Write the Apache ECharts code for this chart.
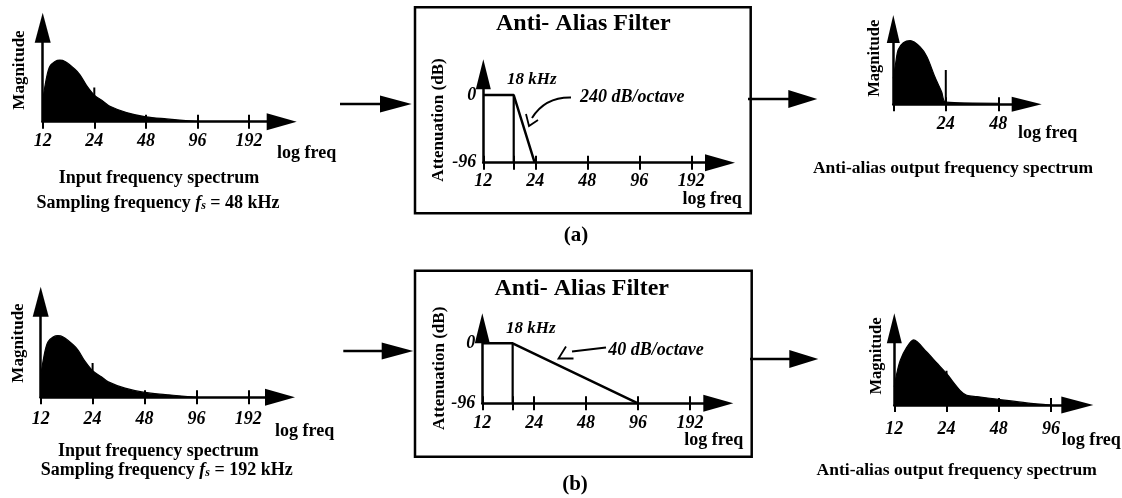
<!DOCTYPE html>
<html><head><meta charset="utf-8">
<script src="https://cdn.jsdelivr.net/npm/echarts@6/dist/echarts.min.js"></script>
<style>html,body{margin:0;padding:0;background:#fff}#c{width:1122px;height:498px}</style>
</head><body><div id="c"></div>
<script>
// ---------------- data (frequencies in kHz) ----------------
const inputFreq = [12, 12.66, 13.21, 14.15, 15.1, 16.2, 18.5, 19.8, 21.6, 24, 27.1, 29.6, 37, 48, 63.3, 96];
const inputMag  = [0.31, 0.64, 0.79, 0.86, 0.88, 0.86, 0.75, 0.67, 0.52, 0.38, 0.29, 0.22, 0.13, 0.07, 0.04, 0];

const outAFreq = [12, 12.4, 12.8, 13.7, 15.0, 17.1, 18.7, 20.8, 22.7, 24, 48];
const outAMag  = [0.37, 0.6, 0.78, 0.88, 0.91, 0.82, 0.68, 0.39, 0.18, 0.03, 0.015];

const outBFreq = [12, 12.4, 13.0, 14.2, 15.5, 18.4, 21.1, 24, 28.7, 31.4, 35.9, 48, 69.6, 96];
const outBMag  = [0.26, 0.45, 0.64, 0.83, 0.93, 0.76, 0.60, 0.45, 0.21, 0.14, 0.12, 0.08, 0.03, 0];

const filterAFreq = [12, 18, 23.8];
const filterAdB   = [0, 0, -96];
const filterBFreq = [12, 18, 96];
const filterBdB   = [0, 0, -96];
const cutoffFreq = 18;
const nyquistFreq = 24;
const nyquistMarkerMag = 0.49;

const ticksFull   = [12, 24, 48, 96, 192];
const ticksFilter = [12, 18, 24, 48, 96, 192];
const ticksOutA   = [12, 24, 48];
const labelsOutA  = [24, 48];
const ticksOutB   = [12, 24, 48, 96];
const dBLabels    = [-96, 0];

// ---------------- helpers ----------------
const FONT = '"Liberation Serif","Times New Roman",serif';
const oct = f => Math.log2(f / 12);
const grids = [], xAxes = [], yAxes = [], series = [];
const PX_PER_MAG = 70;

function addPanel(cfg) {
  const gi = grids.length;
  const yTop = cfg.yTip + cfg.yArrow[1] / 2;
  const xEnd = cfg.xTip - cfg.xArrow[1] / 2;
  grids.push({left: cfg.left, top: yTop, width: xEnd - cfg.left, height: cfg.base - yTop, outerBoundsMode: 'none', containLabel: false});
  const xMax = (xEnd - cfg.left) / cfg.ppo;
  const common = {type: 'value', gridIndex: gi, min: 0, max: xMax, position: 'bottom', splitLine: {show: false}, silent: true};
  xAxes.push(Object.assign({}, common, {
    axisLine: {show: true, onZero: false, symbol: ['none', 'triangle'], symbolSize: cfg.xArrow, lineStyle: {color: '#000', width: 2.5}},
    axisTick: {show: true, inside: false, length: 7, lineStyle: {color: '#000', width: 2}, customValues: cfg.ticks.map(oct)},
    axisLabel: {show: true, customValues: cfg.labels.map(oct), formatter: v => String(Math.round(12 * Math.pow(2, v))),
      margin: cfg.margin, fontFamily: FONT, fontStyle: 'italic', fontWeight: 'bold', fontSize: 18, color: '#000'}
  }));
  xAxes.push(Object.assign({}, common, {
    axisLine: {show: false, onZero: false},
    axisTick: {show: true, inside: true, length: 7, lineStyle: {color: '#000', width: 2}, customValues: cfg.ticks.map(oct)},
    axisLabel: {show: false}
  }));
  let yMin, yMax;
  if (cfg.zeroY != null) {
    const pxPerDb = (cfg.base - cfg.zeroY) / 96;
    yMin = -96; yMax = -96 + (cfg.base - yTop) / pxPerDb;
  } else {
    yMin = 0; yMax = (cfg.base - yTop) / PX_PER_MAG;
  }
  yAxes.push({type: 'value', gridIndex: gi, min: yMin, max: yMax, position: 'left', splitLine: {show: false}, silent: true,
    axisLine: {show: true, onZero: false, symbol: ['none', 'triangle'], symbolSize: cfg.yArrow, lineStyle: {color: '#000', width: 2.5}},
    axisTick: {show: false},
    axisLabel: cfg.yLabels ? {show: true, customValues: cfg.yLabels, formatter: v => String(v), margin: 7,
      fontFamily: FONT, fontStyle: 'italic', fontWeight: 'bold', fontSize: 18, color: '#000'} : {show: false}
  });
  return gi;
}
function spectrum(gi, freq, mag) {
  series.push({type: 'line', xAxisIndex: 2 * gi, yAxisIndex: gi, data: freq.map((f, i) => [oct(f), mag[i]]),
    symbol: 'none', smooth: 0.3, lineStyle: {color: '#000', width: 1.2}, areaStyle: {color: '#000', opacity: 1}, silent: true});
  series.push({type: 'line', xAxisIndex: 2 * gi, yAxisIndex: gi, data: [[oct(nyquistFreq), 0], [oct(nyquistFreq), nyquistMarkerMag]],
    symbol: 'none', lineStyle: {color: '#000', width: 2}, silent: true});
}
function filter(gi, freq, dB) {
  series.push({type: 'line', xAxisIndex: 2 * gi, yAxisIndex: gi, data: freq.map((f, i) => [oct(f), dB[i]]),
    symbol: 'none', lineStyle: {color: '#000', width: 2.5}, silent: true});
  series.push({type: 'line', xAxisIndex: 2 * gi, yAxisIndex: gi, data: [[oct(cutoffFreq), 0], [oct(cutoffFreq), -96]],
    symbol: 'none', lineStyle: {color: '#000', width: 2.2}, silent: true});
}

// ---------------- panels ----------------
const gA1 = addPanel({left: 42.7, base: 121.7, ppo: 51.6, xTip: 296.7, yTip: 12.7, xArrow: [17, 30], yArrow: [16, 30], margin: 11, ticks: ticksFull, labels: ticksFull});
spectrum(gA1, inputFreq, inputMag);
const gB1 = addPanel({left: 483.3, base: 162.7, zeroY: 95, ppo: 52.0, xTip: 735, yTip: 59.3, xArrow: [17, 30], yArrow: [15, 30], margin: 10, ticks: ticksFilter, labels: ticksFull, yLabels: dBLabels});
filter(gB1, filterAFreq, filterAdB);
const gC1 = addPanel({left: 893.3, base: 104.3, ppo: 52.5, xTip: 1041.7, yTip: 15, xArrow: [15, 30], yArrow: [13, 28], margin: 11, ticks: ticksOutA, labels: labelsOutA});
spectrum(gC1, outAFreq, outAMag);
const gA2 = addPanel({left: 40.7, base: 397.3, ppo: 51.9, xTip: 295, yTip: 286.7, xArrow: [17, 30], yArrow: [16, 30], margin: 13, ticks: ticksFull, labels: ticksFull});
spectrum(gA2, inputFreq, inputMag);
const gB2 = addPanel({left: 482.3, base: 403.3, zeroY: 343.3, ppo: 51.9, xTip: 733.3, yTip: 313.3, xArrow: [17, 30], yArrow: [15, 30], margin: 11, ticks: ticksFilter, labels: ticksFull, yLabels: dBLabels});
filter(gB2, filterBFreq, filterBdB);
const gC2 = addPanel({left: 894.3, base: 405, ppo: 52.2, xTip: 1093.3, yTip: 313.3, xArrow: [17, 32], yArrow: [15, 30], margin: 15, ticks: ticksOutB, labels: ticksOutB});
spectrum(gC2, outBFreq, outBMag);

// ---------------- decorations & text ----------------
function T(text, x, y, size, o) {
  o = o || {};
  return {type: 'text', x: x, y: y, rotation: o.rot || 0, silent: true, z: 10,
    style: {text: text, font: (o.italic ? 'italic ' : '') + 'bold ' + size + 'px ' + FONT, fill: '#000',
      align: o.align || 'center', verticalAlign: 'middle', rich: o.rich}};
}
function arrow(x0, x1, tip, y, h) {
  return [
    {type: 'line', silent: true, shape: {x1: x0, y1: y, x2: x1 + 2, y2: y}, style: {stroke: '#000', lineWidth: 2.5}},
    {type: 'polygon', silent: true, shape: {points: [[x1, y - h / 2], [tip, y], [x1, y + h / 2]]}, style: {fill: '#000'}}
  ];
}
const subRich = {
  f: {font: 'italic bold 18px ' + FONT},
  s: {font: 'italic bold 12px ' + FONT, verticalAlign: 'bottom', padding: [6, 0, 0, 0]}
};
const R = Math.PI / 2;
const elements = [].concat(
  // row (a)
  T('Magnitude', 20, 70, 17, {rot: R}),
  T('log freq', 277, 153, 18, {align: 'left'}),
  T('Input frequency spectrum', 159, 178.3, 18),
  T('Sampling frequency {f|f}{s|s} = 48 kHz', 158, 203.3, 18, {rich: subRich}),
  {type: 'rect', silent: true, shape: {x: 415, y: 7.3, width: 335.7, height: 206}, style: {fill: 'none', stroke: '#000', lineWidth: 2.5}},
  T('Anti- Alias Filter', 583.3, 23.3, 24),
  T('Attenuation (dB)', 438.3, 120, 17, {rot: R}),
  T('18 kHz', 507, 79.3, 17, {italic: true, align: 'left'}),
  T('240 dB/octave', 580, 97.3, 18, {italic: true, align: 'left'}),
  T('log freq', 741.7, 199.3, 18, {align: 'right'}),
  {type: 'bezierCurve', silent: true, shape: {x1: 571, y1: 97.5, x2: 532, y2: 118, cpx1: 545, cpy1: 97}, style: {stroke: '#000', lineWidth: 2, fill: 'none'}},
  {type: 'polyline', silent: true, shape: {points: [[526, 114], [529, 126], [538, 120]]}, style: {stroke: '#000', lineWidth: 1.8, fill: 'none'}},
  T('(a)', 576, 236, 21),
  T('Magnitude', 875, 58.3, 16.5, {rot: R}),
  T('log freq', 1018, 133.3, 18, {align: 'left'}),
  T('Anti-alias output frequency spectrum', 953, 168.3, 17.5),
  arrow(340, 380, 411.7, 104, 17),
  arrow(748, 788.3, 817.3, 99, 18),
  // row (b)
  T('Magnitude', 18.3, 343, 17, {rot: R}),
  T('log freq', 275, 431.7, 18, {align: 'left'}),
  T('Input frequency spectrum', 158.3, 451.7, 18),
  T('Sampling frequency {f|f}{s|s} = 192 kHz', 166.7, 470, 18, {rich: subRich}),
  {type: 'rect', silent: true, shape: {x: 415, y: 270.7, width: 336.7, height: 186}, style: {fill: 'none', stroke: '#000', lineWidth: 2.5}},
  T('Anti- Alias Filter', 581.7, 288.3, 24),
  T('Attenuation (dB)', 439.3, 368.3, 17, {rot: R}),
  T('18 kHz', 506, 328.3, 17, {italic: true, align: 'left'}),
  T('40 dB/octave', 608.3, 350, 18, {italic: true, align: 'left'}),
  T('log freq', 743.3, 440, 18, {align: 'right'}),
  {type: 'line', silent: true, shape: {x1: 606, y1: 347.5, x2: 572, y2: 351.5}, style: {stroke: '#000', lineWidth: 2}},
  {type: 'polyline', silent: true, shape: {points: [[566, 346.5], [558.5, 358.5], [573.5, 358.5]]}, style: {stroke: '#000', lineWidth: 1.8, fill: 'none'}},
  T('(b)', 575, 485, 21),
  T('Magnitude', 876.7, 356, 16.5, {rot: R}),
  T('log freq', 1061.7, 440, 18, {align: 'left'}),
  T('Anti-alias output frequency spectrum', 956.7, 470, 17.5),
  arrow(343.3, 381.7, 413.3, 351, 17),
  arrow(750, 789.3, 818.3, 359, 18)
);

const chart = echarts.init(document.getElementById('c'), null, {renderer: 'canvas'});
chart.setOption({
  backgroundColor: '#fff',
  animation: false,
  grid: grids,
  xAxis: xAxes,
  yAxis: yAxes,
  series: series,
  graphic: {elements: elements}
});
</script>
</body></html>
